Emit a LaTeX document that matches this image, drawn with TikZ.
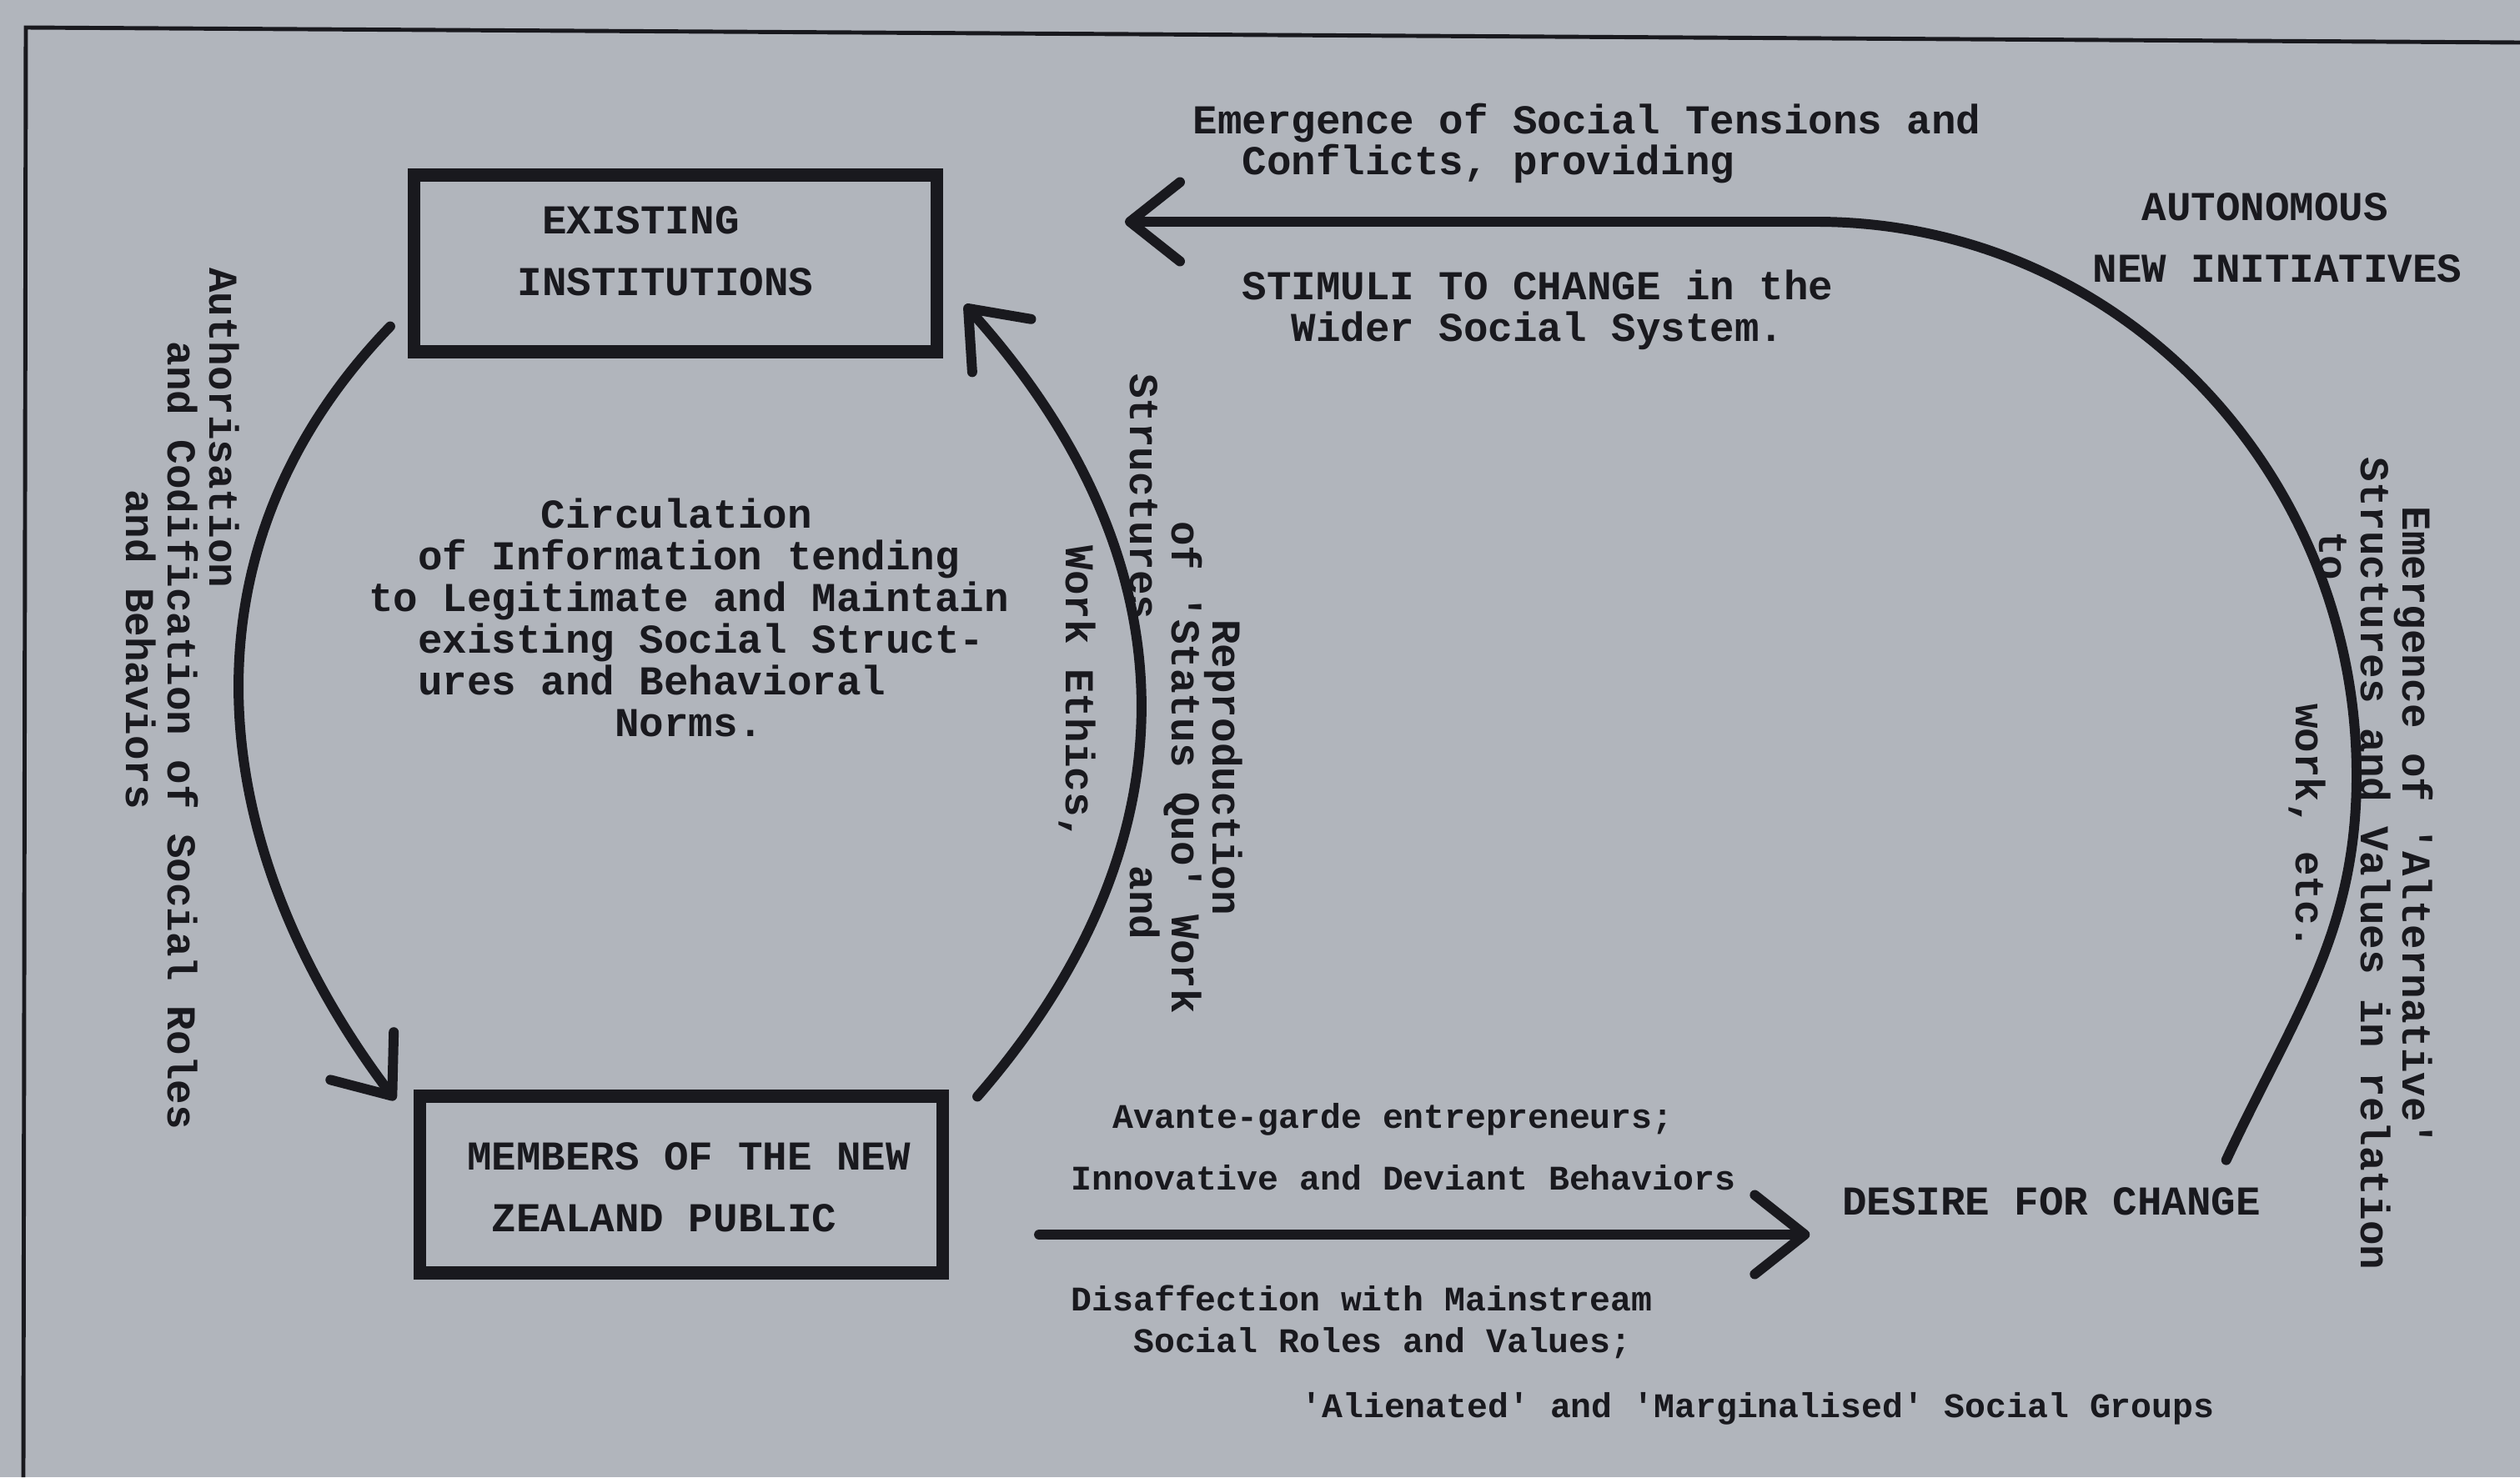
\documentclass[tikz,border=0pt]{standalone}
\usepackage{fontspec}
\usetikzlibrary{arrows.meta}
\newfontfamily\typew{Liberation Mono}
\newcommand{\chgap}[1]{\hspace*{#1\fontcharwd\font`0}}

\begin{document}
\begin{tikzpicture}[>=Straight Barb]
    \definecolor{paperbg}{RGB}{177, 181, 188} % Paper
    \definecolor{ink}{RGB}{25, 25, 30}        % Typewriter ink
    \tikzset{
        frame/.style={draw=ink, line width=1.4pt},
        box/.style={draw=ink, line width=4.3pt, minimum width=6.27cm, minimum height=2.12cm},
        txt/.style={inner sep=0pt, text=ink, align=left, font=\typew\bfseries\fontsize{14}{14.2}\selectfont},
        widetxt/.style={txt, font=\typew\bfseries\fontsize{14}{21.1}\selectfont},
        elite/.style={txt, font=\typew\bfseries\fontsize{11.8}{14.2}\selectfont},
        side/.style={txt, rotate=-90},
        flow/.style={draw=ink, line width=3.4pt, line cap=round, -{Straight Barb[length=0.6cm, width=0.95cm, round]}}
    }

    % Paper and frame
    \fill[paperbg] (0,0) rectangle (30.22,-17.72);
    \useasboundingbox (0,0) rectangle (30.22,-17.72);
    \draw[frame] (30.22,-0.51) -- (0.31,-0.33) -- (0.28,-17.72);

    % Boxes
    \node[box] (inst) at (8.10,-3.16) {};
    \node[box] (pub) at (8.17,-14.21) {};
    \node[widetxt] (instlbl) at (7.98,-3.01) {\chgap{1}EXISTING\\INSTITUTIONS};
    \node[widetxt] (publbl) at (8.26,-14.24) {MEMBERS OF THE NEW\\\chgap{1}ZEALAND PUBLIC};

    % Inner loop text
    \node[txt] (circ) at (8.26,-7.41) {\chgap{7}Circulation\\
        \chgap{2}of Information tending\\
        to Legitimate and Maintain\\
        \chgap{2}existing Social Struct-\\
        \chgap{2}ures and Behavioral\\
        \chgap{10}Norms.};
    \node[side] (authlbl) at (2.19,-8.38) {Authorisation\\
        \chgap{3}and Codification of Social Roles\\
        \chgap{9}and Behaviors};
    \node[side] (reprolbl) at (13.80,-8.32) {\chgap{10}Reproduction\\
        \chgap{6}of 'Status Quo' Work\\
        Structures\chgap{10}and\\[0.27cm]
        \chgap{7}Work Ethics,};

    % Outer loop text
    \node[txt] (tension) at (19.03,-1.72) {Emergence of Social Tensions and\\\chgap{2}Conflicts, providing};
    \node[txt] (stimuli) at (18.44,-3.72) {STIMULI TO CHANGE in the\\\chgap{2}Wider Social System.};
    \node[widetxt] (auto) at (27.31,-2.85) {\chgap{2}AUTONOMOUS\\NEW INITIATIVES};
    \node[side] (altlbl) at (28.31,-10.36) {\chgap{2}Emergence of 'Alternative'\\
        Structures and Values in relation\\
        \chgap{3}to\\[-0.22cm]
        \chgap{10}work, etc.};
    \node[elite] (avant) at (16.83,-13.76) {\chgap{2}Avante-garde entrepreneurs;\\[0.24cm]Innovative and Deviant Behaviors};
    \node[txt] (desire) at (24.60,-14.41) {DESIRE FOR CHANGE};
    \node[elite] (disaff) at (16.33,-15.86) {Disaffection with Mainstream\\\chgap{3}Social Roles and Values;};
    \node[elite] (alien) at (21.08,-16.90) {'Alienated' and 'Marginalised' Social Groups};

    % Arrows
    \draw[flow] ([xshift=-0.21cm,yshift=0.38cm]inst.south west) to[out=226, in=127, looseness=1.04] ([xshift=-0.22cm,yshift=-0.12cm]pub.north west);
    \draw[flow] ([xshift=0.34cm,yshift=-0.08cm]pub.north east) to[out=49, in=312, looseness=1.1] ([xshift=0.26cm,yshift=0.64cm]inst.south east);
    \draw[flow] ([xshift=1.08cm,yshift=-0.60cm]pub.east) -- ([xshift=-0.38cm,yshift=-0.40cm]desire.west);
    \draw[flow] ([xshift=-0.42cm,yshift=0.32cm]desire.north east) to[out=65, in=270] (28.26,-9.30)
        to[out=90, in=0] (21.78,-2.66) -- ([xshift=2.18cm,yshift=0.50cm]inst.east);
\end{tikzpicture}
\end{document}
